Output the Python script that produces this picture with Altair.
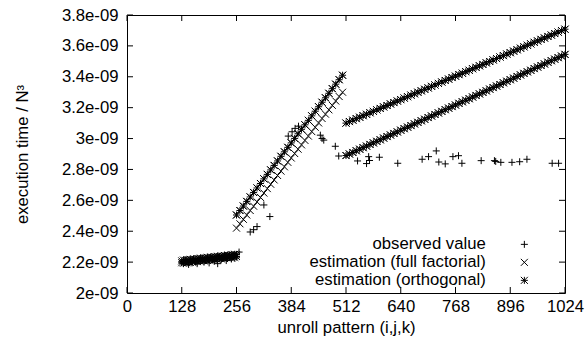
import altair as alt
import pandas as pd

FONT = "Liberation Sans"
FS = 16.7

x_ticks = [0, 128, 256, 384, 512, 640, 768, 896, 1024]
y_ticks = [2.0, 2.2, 2.4, 2.6, 2.8, 3.0, 3.2, 3.4, 3.6, 3.8]

series_names = ["observed value", "estimation (full factorial)", "estimation (orthogonal)"]

# segment 1 (values in units of 1e-09)
seg1_x = [128, 132, 136, 140, 144, 148, 152, 156, 160, 164, 168, 172, 176, 180, 184, 188,
          192, 196, 200, 204, 208, 212, 216, 220, 224, 228, 232, 236, 240, 244, 248, 252, 256]
seg1_ff = [2.208, 2.193, 2.211, 2.196, 2.213, 2.198, 2.216, 2.201, 2.218, 2.203, 2.221, 2.206,
           2.223, 2.208, 2.226, 2.211, 2.228, 2.213, 2.231, 2.216, 2.233, 2.218, 2.236, 2.221,
           2.238, 2.223, 2.241, 2.226, 2.243, 2.228, 2.246, 2.231, 2.248]
seg1_orth = [2.196, 2.213, 2.199, 2.216, 2.201, 2.218, 2.204, 2.221, 2.206, 2.223, 2.209, 2.226,
             2.211, 2.228, 2.214, 2.231, 2.216, 2.233, 2.219, 2.236, 2.221, 2.238, 2.224, 2.241,
             2.226, 2.243, 2.229, 2.246, 2.231, 2.248, 2.234, 2.251, 2.236]
seg1_obs = [2.205, 2.190, 2.215, 2.200, 2.185, 2.210, 2.195, 2.220, 2.200, 2.190, 2.215, 2.205,
            2.225, 2.200, 2.210, 2.220, 2.195, 2.230, 2.215, 2.205, 2.225, 2.190, 2.235, 2.215,
            2.225, 2.240, 2.210, 2.230, 2.245, 2.220, 2.240, 2.225, 2.250]

# segment 2
seg2_x = [256, 264, 272, 280, 288, 296, 304, 312, 320, 328, 336, 344, 352, 360, 368, 376,
          384, 392, 400, 408, 416, 424, 432, 440, 448, 456, 464, 472, 480, 488, 496, 504]
seg2_upper = [2.505, 2.534, 2.563, 2.593, 2.622, 2.651, 2.680, 2.709, 2.739, 2.768, 2.797, 2.826,
              2.855, 2.885, 2.914, 2.943, 2.972, 3.001, 3.031, 3.060, 3.089, 3.118, 3.147, 3.177,
              3.206, 3.235, 3.264, 3.293, 3.323, 3.352, 3.381, 3.410]
seg2_lower = [2.420, 2.448, 2.477, 2.505, 2.534, 2.562, 2.590, 2.619, 2.647, 2.676, 2.704, 2.732,
              2.761, 2.789, 2.817, 2.846, 2.874, 2.903, 2.931, 2.959, 2.988, 3.016, 3.045, 3.073,
              3.101, 3.130, 3.158, 3.186, 3.215, 3.243, 3.272, 3.300]

# segment 3
seg3_x = [512, 520, 528, 536, 544, 552, 560, 568, 576, 584, 592, 600, 608, 616, 624, 632,
          640, 648, 656, 664, 672, 680, 688, 696, 704, 712, 720, 728, 736, 744, 752, 760,
          768, 776, 784, 792, 800, 808, 816, 824, 832, 840, 848, 856, 864, 872, 880, 888,
          896, 904, 912, 920, 928, 936, 944, 952, 960, 968, 976, 984, 992, 1000, 1008, 1016, 1024]
seg3_upper = [3.100, 3.110, 3.119, 3.129, 3.138, 3.148, 3.157, 3.167, 3.176, 3.186, 3.195, 3.205,
              3.214, 3.224, 3.233, 3.243, 3.252, 3.262, 3.271, 3.281, 3.290, 3.300, 3.309, 3.319,
              3.328, 3.338, 3.347, 3.357, 3.366, 3.376, 3.385, 3.395, 3.404, 3.414, 3.423, 3.433,
              3.442, 3.452, 3.461, 3.471, 3.480, 3.490, 3.499, 3.509, 3.518, 3.528, 3.537, 3.547,
              3.556, 3.566, 3.575, 3.585, 3.594, 3.604, 3.613, 3.623, 3.632, 3.642, 3.651, 3.661,
              3.670, 3.680, 3.689, 3.699, 3.708]
seg3_lower = [2.890, 2.900, 2.910, 2.921, 2.931, 2.941, 2.951, 2.962, 2.972, 2.982, 2.992, 3.003,
              3.013, 3.023, 3.033, 3.043, 3.054, 3.064, 3.074, 3.084, 3.095, 3.105, 3.115, 3.125,
              3.136, 3.146, 3.156, 3.166, 3.176, 3.187, 3.197, 3.207, 3.217, 3.228, 3.238, 3.248,
              3.258, 3.269, 3.279, 3.289, 3.299, 3.309, 3.320, 3.330, 3.340, 3.350, 3.361, 3.371,
              3.381, 3.391, 3.402, 3.412, 3.422, 3.432, 3.442, 3.453, 3.463, 3.473, 3.483, 3.494,
              3.504, 3.514, 3.524, 3.534, 3.545]

# scattered observations
obs_x = [262, 288, 296, 304, 320, 334, 377, 386, 393, 401, 452, 456, 460, 487, 495, 539, 560,
         565, 567, 590, 633, 690, 705, 723, 729, 744, 762, 775, 783, 828, 859, 862, 874, 900,
         918, 935, 994, 1009]
obs_y = [2.265, 2.395, 2.410, 2.430, 2.570, 2.495, 3.016, 3.044, 3.066, 3.080, 3.022, 3.000,
         2.990, 2.950, 2.887, 2.855, 2.838, 2.883, 2.858, 2.879, 2.840, 2.866, 2.883, 2.920,
         2.848, 2.836, 2.883, 2.889, 2.840, 2.857, 2.857, 2.852, 2.846, 2.846, 2.850, 2.866,
         2.840, 2.840]

records = []


def add(name, xs, ys):
    for a, b in zip(xs, ys):
        records.append({"x": a, "y": b, "series": name})


add(series_names[0], seg1_x, seg1_obs)
add(series_names[0], obs_x, obs_y)
add(series_names[1], seg1_x, seg1_ff)
add(series_names[1], seg2_x, seg2_upper)
add(series_names[1], seg2_x, seg2_lower)
add(series_names[1], seg3_x, seg3_upper)
add(series_names[1], seg3_x, seg3_lower)
add(series_names[2], seg1_x, seg1_orth)
add(series_names[2], seg2_x, seg2_upper)
add(series_names[2], seg3_x, seg3_upper)
add(series_names[2], seg3_x, seg3_lower)

df = pd.DataFrame(records)
df["order"] = range(len(df))

PLUS = "M-1,0L1,0M0,-1L0,1"
CROSS = "M-1,-1L1,1M-1,1L1,-1"
STAR = "M-1,0L1,0M0,-1L0,1M-1,-1L1,1M-1,1L1,-1"

W, H = 438, 278

xscale = alt.Scale(domain=[0, 1024], nice=False, zero=False)
yscale = alt.Scale(domain=[2.0, 3.8], nice=False, zero=False)

xaxis = alt.Axis(values=x_ticks, format="d", title="unroll pattern (i,j,k)", ticks=False,
                 domain=False, grid=False, labelFontSize=FS, labelFont=FONT,
                 labelColor="black", labelPadding=5, labelFlush=False, labelOverlap=False,
                 titleFont=FONT, titleFontSize=FS,
                 titleFontWeight="normal", titleColor="black", titleBaseline="alphabetic",
                 titleY=39, titleX=W / 2)
yaxis = alt.Axis(values=y_ticks, title="execution time / N³", ticks=False, domain=False,
                 grid=False, labelFontSize=FS, labelFont=FONT, labelColor="black",
                 labelPadding=9, labelFlush=False, labelOverlap=False, labelBound=False,
                 labelExpr="format(datum.value, '.1~f') + 'e-09'",
                 titleFont=FONT, titleFontSize=FS, titleFontWeight="normal",
                 titleColor="black", titleAngle=270, titleBaseline="middle",
                 titleAlign="center", titleX=-105, titleY=H / 2)

points = alt.Chart(df).mark_point(filled=False, strokeWidth=1, size=49, color="black", opacity=1).encode(
    x=alt.X("x:Q", scale=xscale, axis=xaxis),
    y=alt.Y("y:Q", scale=yscale, axis=yaxis),
    shape=alt.Shape("series:N",
                    scale=alt.Scale(domain=series_names, range=[PLUS, CROSS, STAR]),
                    legend=alt.Legend(title=None, orient="none", legendX=389, legendY=221,
                                      labelAlign="right", labelOffset={"expr": "-47"},
                                      labelFontSize=FS,
                                      labelFont=FONT, labelColor="black", labelLimit=400,
                                      symbolSize=49, symbolStrokeWidth=1, symbolStrokeColor="black",
                                      symbolFillColor="transparent", rowPadding=0, padding=0)),
    order="order:Q",
)

tx = pd.DataFrame({"x": x_ticks})
ty = pd.DataFrame({"y": y_ticks})

bottom = alt.Chart(tx).mark_rule(color="black", strokeWidth=1).encode(
    x=alt.X("x:Q", scale=xscale, axis=xaxis), y=alt.value(H), y2=alt.value(H - 6))
top = alt.Chart(tx).mark_rule(color="black", strokeWidth=1).encode(
    x=alt.X("x:Q", scale=xscale, axis=xaxis), y=alt.value(0), y2=alt.value(6))
left = alt.Chart(ty).mark_rule(color="black", strokeWidth=1).encode(
    y=alt.Y("y:Q", scale=yscale, axis=yaxis), x=alt.value(0), x2=alt.value(6))
right = alt.Chart(ty).mark_rule(color="black", strokeWidth=1).encode(
    y=alt.Y("y:Q", scale=yscale, axis=yaxis), x=alt.value(W), x2=alt.value(W - 6))

chart = alt.layer(points, bottom, top, left, right).properties(
    width=W, height=H,
    padding={"left": 127, "top": 15, "right": 20, "bottom": 54},
    autosize=alt.AutoSizeParams(type="none"),
    background="white",
).configure_view(stroke="black", strokeWidth=1).configure_axis(labelOverlap=False)

chart.save("out.html", embed_options={"renderer": "svg", "actions": False})
